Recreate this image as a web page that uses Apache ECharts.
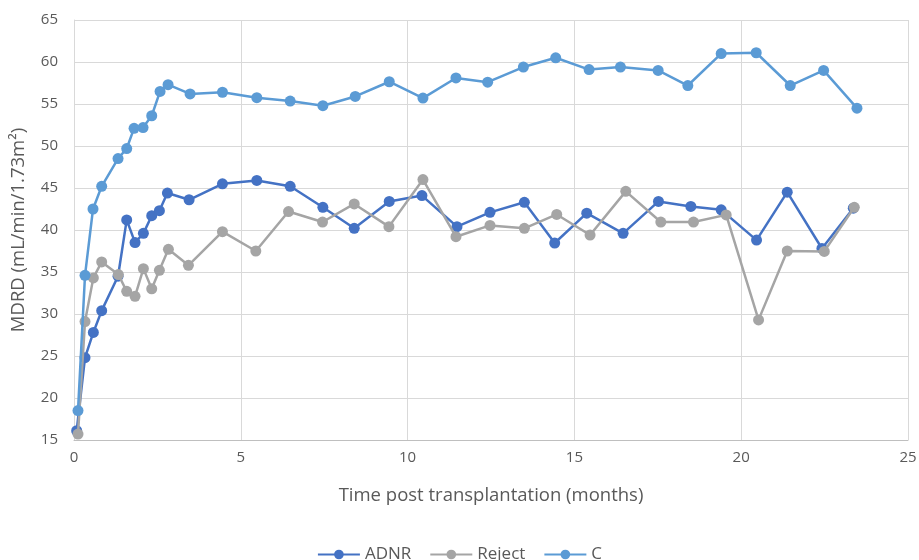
<!DOCTYPE html>
<html>
<head>
<meta charset="utf-8">
<script src="https://cdn.jsdelivr.net/npm/echarts@6/dist/echarts.min.js"></script>
<style>html,body{margin:0;padding:0;background:#fff}#c{width:919px;height:560px}</style>
</head>
<body>
<div id="c"></div>
<script>
var adnrX = [0.08,0.33,0.58,0.83,1.32,1.58,1.83,2.08,2.33,2.56,2.8,3.45,4.45,5.48,6.48,7.46,8.4,9.45,10.43,11.48,12.47,13.5,14.41,15.37,16.46,17.52,18.49,19.4,20.46,21.38,22.42,23.36];
var adnrY = [16.1,24.8,27.8,30.4,34.5,41.2,38.5,39.6,41.7,42.3,44.4,43.6,45.5,45.9,45.2,42.7,40.2,43.4,44.1,40.4,42.1,43.3,38.45,42.0,39.6,43.4,42.8,42.4,38.8,44.5,37.8,42.6];
var rejectX = [0.12,0.33,0.58,0.83,1.33,1.58,1.83,2.08,2.33,2.56,2.83,3.43,4.45,5.45,6.43,7.45,8.4,9.44,10.46,11.45,12.47,13.5,14.47,15.47,16.54,17.59,18.57,19.55,20.52,21.38,22.49,23.39];
var rejectY = [15.7,29.1,34.3,36.2,34.7,32.7,32.1,35.4,33.0,35.2,37.7,35.8,39.8,37.5,42.2,40.95,43.1,40.4,46.0,39.2,40.55,40.2,41.85,39.4,44.6,40.95,40.95,41.8,29.3,37.5,37.45,42.7];
var cX = [0.12,0.33,0.57,0.83,1.32,1.58,1.8,2.07,2.33,2.58,2.82,3.48,4.45,5.48,6.48,7.46,8.43,9.45,10.46,11.45,12.4,13.47,14.44,15.44,16.38,17.51,18.4,19.4,20.45,21.47,22.47,23.47];
var cY = [18.5,34.6,42.5,45.2,48.5,49.7,52.1,52.2,53.6,56.5,57.3,56.2,56.4,55.75,55.35,54.8,55.9,57.65,55.7,58.1,57.6,59.4,60.5,59.1,59.4,59.0,57.2,61.0,61.1,57.2,59.0,54.5];
var seriesNames = ['ADNR','Reject','C'];
var xTitle = 'Time post transplantation (months)';
var yTitle = 'MDRD (mL/min/1.73m²)';

function pairs(xs, ys){ return xs.map(function(x,i){ return [x, ys[i]]; }); }

var font = '"Open Sans", Lato, sans-serif';
var colors = ['#4472C4','#A5A5A5','#5B9BD5'];
var data = [pairs(adnrX,adnrY), pairs(rejectX,rejectY), pairs(cX,cY)];

var chart = echarts.init(document.getElementById('c'), null, {renderer:'canvas'});
chart.setOption({
  animation:false,
  textStyle:{fontFamily:font},
  color: colors,
  grid:{left:74,right:11,top:20,bottom:120,containLabel:false,outerBoundsMode:'none'},
  xAxis:{
    type:'value',min:0,max:25,interval:5,
    name:xTitle,nameLocation:'middle',nameGap:46,
    nameTextStyle:{fontSize:18.5,color:'#595959',fontFamily:font},
    axisLine:{show:true,lineStyle:{color:'#BFBFBF',width:1}},
    axisTick:{show:false},
    axisLabel:{fontSize:15,color:'#595959',margin:10,fontFamily:font},
    splitLine:{show:true,lineStyle:{color:'#D9D9D9',width:1}}
  },
  yAxis:{
    type:'value',min:15,max:65,interval:5,
    name:yTitle,nameLocation:'middle',nameGap:46,nameRotate:90,
    nameTextStyle:{fontSize:18.5,color:'#595959',fontFamily:font},
    axisLine:{show:true,lineStyle:{color:'#D9D9D9',width:1}},
    axisTick:{show:false},
    axisLabel:{fontSize:15,color:'#595959',margin:16,fontFamily:font},
    splitLine:{show:true,lineStyle:{color:'#D9D9D9',width:1}}
  },
  legend:{
    top:541,left:'center',itemWidth:42,itemHeight:12,itemGap:18,
    textStyle:{fontSize:17,color:'#595959',fontFamily:font},
    data:seriesNames
  },
  series: seriesNames.map(function(n,i){
    return {
      name:n,type:'line',data:data[i],
      symbol:'circle',symbolSize:11,
      lineStyle:{width:2.5,color:colors[i]},
      itemStyle:{color:colors[i]},
      z:2+i
    };
  })
});
</script>
</body>
</html>
